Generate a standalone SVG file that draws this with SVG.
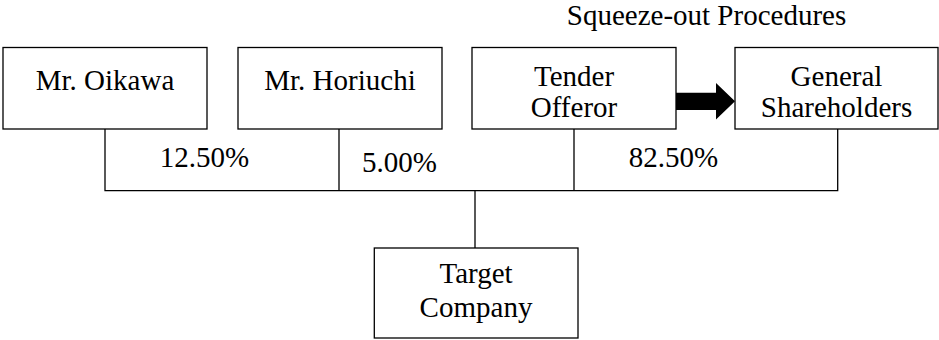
<svg xmlns="http://www.w3.org/2000/svg" width="939" height="340" viewBox="0 0 939 340">
<style>
.box{fill:#fff;stroke:#000;stroke-width:1.3}
.ln{fill:none;stroke:#000;stroke-width:1.3}
</style>
<rect width="939" height="340" fill="#fff"/>
<g font-family="'Liberation Serif', 'Times New Roman', serif" font-size="29" fill="#000" text-anchor="middle">
<text x="706.5" y="25">Squeeze-out Procedures</text>
<g id="connectors">
<path class="ln" d="M105,129V190.7H837.7V129M339,129V190.7M574,129V190.7M475,190.7V248"/>
<polygon points="676,92.7 716,92.7 716,83 735,101.3 716,119.5 716,110 676,110" fill="#000"/>
<text x="204.5" y="167">12.50%</text>
<text x="399.5" y="172">5.00%</text>
<text x="673.5" y="167">82.50%</text>
</g>
<g id="oikawa"><rect class="box" x="3" y="47.5" width="204" height="81.5"/><text x="105" y="90">Mr. Oikawa</text></g>
<g id="horiuchi"><rect class="box" x="238" y="47.5" width="204" height="81.5"/><text x="340" y="90">Mr. Horiuchi</text></g>
<g id="tender"><rect class="box" x="472" y="47.5" width="204" height="81.5"/><text x="574" y="86">Tender</text><text x="574" y="117">Offeror</text></g>
<g id="general"><rect class="box" x="735" y="47.5" width="203" height="81.5"/><text x="836.5" y="86">General</text><text x="836.5" y="117">Shareholders</text></g>
<g id="target"><rect class="box" x="374.3" y="248" width="203.7" height="90"/><text x="476" y="283">Target</text><text x="476" y="317">Company</text></g>
</g>
</svg>
